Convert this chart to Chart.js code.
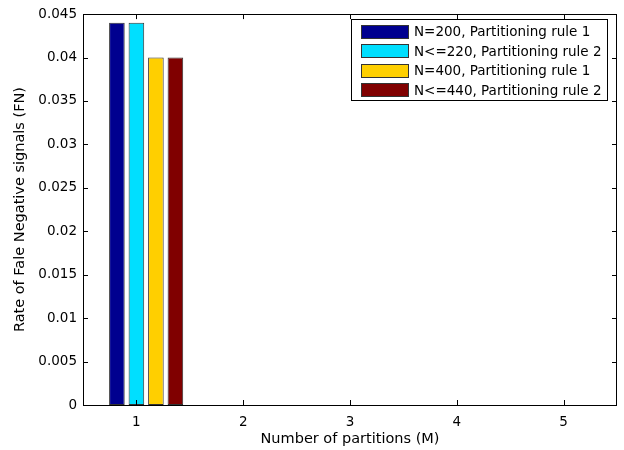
<!DOCTYPE html>
<html>
<head>
<meta charset="utf-8">
<script src="https://cdn.jsdelivr.net/npm/chart.js@4/dist/chart.umd.min.js"></script>
<style>
html,body{margin:0;padding:0;background:#fff;}
#wrap{width:624px;height:450px;position:relative;}
</style>
</head>
<body>
<div id="wrap"><canvas id="c" width="624" height="450"></canvas></div>
<script>
// ---- data ----
const categories = ['1', '2', '3', '4', '5'];
const seriesLabels = [
  'N=200, Partitioning rule 1',
  'N<=220, Partitioning rule 2',
  'N=400, Partitioning rule 1',
  'N<=440, Partitioning rule 2'
];
const n200rule1 = [0.044, 0, 0, 0, 0];
const n220rule2 = [0.044, 0, 0, 0, 0];
const n400rule1 = [0.040, 0, 0, 0, 0];
const n440rule2 = [0.040, 0, 0, 0, 0];
// empty slot before the four series (the groups in the figure sit right of the tick)
const emptySlot = [null, null, null, null, null];
const yTickValues = [0, 0.005, 0.01, 0.015, 0.02, 0.025, 0.03, 0.035, 0.04, 0.045];
const yTickLabels = ['0', '0.005', '0.01', '0.015', '0.02', '0.025', '0.03', '0.035', '0.04', '0.045'];
const xTitle = 'Number of partitions (M)';
const yTitle = 'Rate of Fale Negative signals (FN)';

const seriesColors = ['#00008f', '#00dfff', '#ffcf00', '#800000'];
const FONT = 'DejaVu Sans';

Chart.defaults.font.family = FONT;
Chart.defaults.font.size = 13.5;
Chart.defaults.color = '#000';

const seriesValues = [n200rule1, n220rule2, n400rule1, n440rule2];
const datasets = [{
  label: '',
  data: emptySlot,
  backgroundColor: 'rgba(0,0,0,0)',
  borderWidth: 0,
  spacer: true
}].concat(seriesValues.map((vals, i) => ({
  label: seriesLabels[i],
  data: vals,
  backgroundColor: seriesColors[i],
  borderColor: '#333',
  borderWidth: 1,
  borderSkipped: false
})));

const frame = {
  id: 'frame',
  afterDraw(chart) {
    const ctx = chart.ctx;
    const {left, right, top, bottom} = chart.chartArea;
    const xs = chart.scales.x, ys = chart.scales.y;
    ctx.save();
    ctx.strokeStyle = '#000';
    ctx.lineWidth = 1;
    ctx.strokeRect(Math.round(left) + 0.5, Math.round(top) + 0.5,
                   Math.round(right - left) - 1, Math.round(bottom - top));
    const L = 5;
    ctx.beginPath();
    xs.ticks.forEach((t, i) => {
      const px = Math.round(xs.getPixelForTick(i)) + 0.5;
      ctx.moveTo(px, bottom); ctx.lineTo(px, bottom - L);
      ctx.moveTo(px, top); ctx.lineTo(px, top + L);
    });
    ys.ticks.forEach((t, i) => {
      const py = Math.round(ys.getPixelForTick(i)) + 0.5;
      ctx.moveTo(left, py); ctx.lineTo(left + L, py);
      ctx.moveTo(right, py); ctx.lineTo(right - L, py);
    });
    ctx.stroke();

    // legend
    const items = chart.data.datasets.filter(d => !d.spacer);
    const bx = 351.5, by = 19.5, bw = 256, bh = 81;
    ctx.fillStyle = '#fff';
    ctx.fillRect(bx, by, bw, bh);
    ctx.strokeRect(bx, by, bw, bh);
    ctx.font = '13.5px "' + FONT + '"';
    ctx.textBaseline = 'middle';
    ctx.textAlign = 'left';
    items.forEach((d, i) => {
      const cy = 31.5 + i * 19.6;
      ctx.fillStyle = d.backgroundColor;
      ctx.fillRect(361, Math.round(cy - 7), 48, 14);
      ctx.strokeStyle = '#333';
      ctx.strokeRect(361.5, Math.round(cy - 7) + 0.5, 47, 13);
      ctx.fillStyle = '#000';
      ctx.fillText(d.label, 414, cy + 1);
    });
    ctx.restore();
  }
};

new Chart(document.getElementById('c'), {
  type: 'bar',
  data: {labels: categories, datasets: datasets},
  options: {
    responsive: false,
    animation: false,
    layout: {padding: {top: 11, right: 7, left: 0, bottom: 0}},
    datasets: {bar: {categoryPercentage: 0.913, barPercentage: 0.8}},
    plugins: {legend: {display: false}, tooltip: {enabled: false}},
    scales: {
      x: {
        offset: true,
        grid: {display: false, drawTicks: false},
        border: {display: false},
        ticks: {padding: 9},
        title: {display: true, text: xTitle, font: {size: 14.5}, padding: {top: 0, bottom: 2}},
        afterFit(s) { s.height = 45; }
      },
      y: {
        min: 0, max: 0.045,
        grid: {display: false, drawTicks: false},
        border: {display: false},
        afterBuildTicks(s) { s.ticks = yTickValues.map(v => ({value: v})); },
        ticks: {padding: 6, callback: (v, i) => yTickLabels[i]},
        title: {display: true, text: yTitle, font: {size: 14.5}, padding: {top: 12, bottom: 0}},
        afterFit(s) { s.width = 83; }
      }
    }
  },
  plugins: [frame]
});
</script>
</body>
</html>
